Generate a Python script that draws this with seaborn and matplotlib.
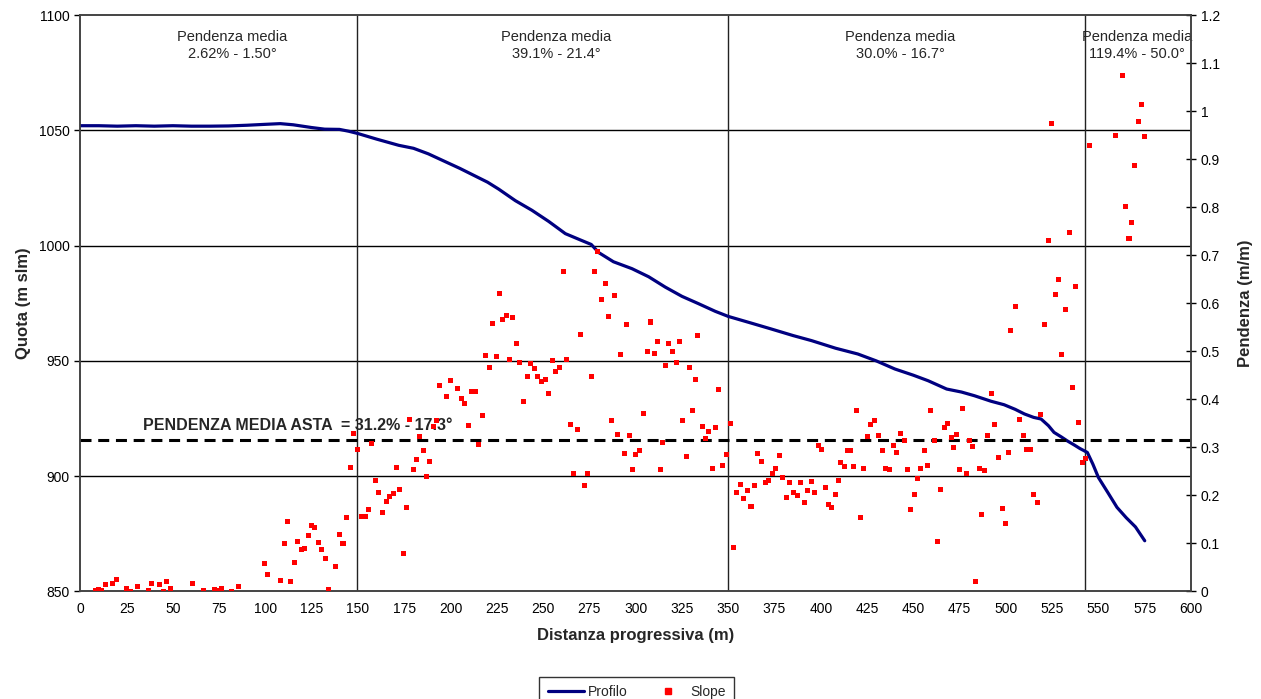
import matplotlib
matplotlib.use("Agg")
import matplotlib.pyplot as plt
from matplotlib.lines import Line2D
from matplotlib.ticker import FuncFormatter
import seaborn as sns
import pandas as pd

# -----------------------------------------------------------------------------
# DATI
# -----------------------------------------------------------------------------

# Profilo longitudinale (distanza progressiva, quota)
profilo_x = [0, 10, 20, 30, 40, 50, 60, 70, 80, 90, 100, 108, 115, 125, 132,
             140, 145, 150, 160, 172, 180, 188, 195, 205, 210, 220, 226, 235,
             244, 253, 262, 270, 276, 280, 288, 298, 307, 316, 325, 334, 343,
             350, 362, 373, 385, 395, 408, 420, 430, 440, 450, 458, 468, 476,
             483, 492, 499, 505, 510, 515, 519, 523, 526, 530, 533, 537, 540,
             544, 547, 550, 555, 560, 565, 570, 575]
profilo_z = [1052, 1052, 1051.8, 1052, 1051.8, 1052, 1051.8, 1051.8, 1051.9,
             1052.2, 1052.6, 1052.9, 1052.4, 1051.2, 1050.5, 1050.4, 1049.6,
             1048.6, 1046.2, 1043.5, 1042.2, 1039.8, 1037.2, 1033.5, 1031.5,
             1027.5, 1024.5, 1019.5, 1015.3, 1010.5, 1005.2, 1002.5, 1000.5,
             997, 993, 990, 986.5, 982, 978, 974.8, 971.5, 969.3, 966.5, 963.9,
             961, 958.8, 955.5, 953, 950, 946.5, 943.8, 941.4, 937.8, 936.5,
             934.9, 932.5, 931, 929, 927, 925.5, 924.8, 921.9, 919, 917, 915.4,
             913.5, 912, 910.3, 905.2, 899.4, 893, 886.5, 882, 878, 872]

# Pendenza locale (m/m)
slope_x = [8.1, 9.9, 11.7, 13.7, 17.3, 19.4, 25.2, 27.0, 31.0, 36.7, 38.6, 42.6,
           44.7, 46.5, 48.7, 60.5, 66.5, 72.4, 74.4, 76.3, 81.9, 85.3, 99.3,
           101.1, 108.3, 110.3, 111.9, 113.7, 115.5, 117.5, 119.3, 121.1, 123.0,
           124.7, 126.6, 128.4, 130.2, 132.2, 134.0, 138.0, 140.0, 141.9, 143.7,
           145.7, 147.6, 149.6, 151.8, 153.8, 155.6, 157.5, 159.5, 161.1, 163.2,
           165.2, 167.2, 169.2, 170.6, 172.4, 174.4, 176.2, 178.0, 179.8, 181.6,
           183.4, 185.3, 187.1, 188.8, 190.7, 192.5, 194.1, 197.7, 199.9, 203.7,
           205.8, 207.6, 209.6, 211.4, 213.4, 215.3, 217.3, 219.0, 221.0, 222.8,
           224.6, 226.4, 228.0, 230.0, 231.7, 233.5, 235.5, 237.3, 239.2, 241.4,
           243.4, 245.2, 247.2, 249.2, 251.1, 252.9, 254.9, 256.9, 258.9, 260.8,
           262.6, 264.6, 266.4, 268.4, 270.4, 272.2, 274.1, 275.9, 277.8, 279.6,
           281.6, 283.6, 285.5, 287.2, 288.8, 290.4, 292.0, 293.8, 295.2, 296.7,
           298.1, 299.9, 302.3, 304.0, 306.2, 308.0, 310.0, 311.6, 313.2, 314.5,
           316.3, 317.9, 319.9, 321.8, 323.6, 325.4, 327.2, 329.0, 330.8, 332.4,
           333.5, 335.9, 337.7, 339.5, 341.3, 343.2, 345.0, 347.0, 348.8, 351.0,
           352.7, 354.7, 356.5, 358.5, 360.5, 362.3, 364.2, 366.0, 367.8, 370.0,
           371.8, 373.8, 375.6, 377.5, 379.5, 381.3, 383.3, 385.3, 387.2, 389.2,
           391.0, 393.0, 395.0, 396.7, 398.7, 400.5, 402.3, 404.1, 405.9, 407.7,
           409.5, 410.9, 412.7, 414.2, 416.1, 417.8, 419.2, 421.3, 423.1, 425.3,
           427.1, 429.2, 431.2, 433.2, 435.2, 437.1, 439.1, 441.1, 443.1, 445.1,
           446.8, 448.6, 450.4, 452.1, 453.9, 455.8, 457.6, 459.2, 461.2, 462.8,
           464.8, 466.6, 468.6, 470.4, 471.8, 473.2, 474.9, 476.7, 478.5, 480.3,
           482.0, 483.8, 485.5, 486.9, 488.7, 490.3, 492.1, 493.9, 495.9, 497.9,
           499.8, 501.6, 502.6, 505.2, 507.4, 509.3, 511.3, 513.3, 515.1, 517.1,
           518.9, 520.7, 522.8, 524.8, 526.6, 528.6, 530.2, 532.2, 534.2, 535.8,
           537.8, 539.4, 541.3, 543.1, 545.1, 559.1, 562.9, 564.7, 566.5, 568.1,
           569.7, 571.5, 573.3, 574.9]
slope_y = [0.003, 0.005, 0.002, 0.015, 0.016, 0.024, 0.007, 0.001, 0.011, 0.002,
           0.016, 0.014, 0.000, 0.021, 0.007, 0.016, 0.002, 0.005, 0.002, 0.007,
           0.000, 0.010, 0.059, 0.036, 0.022, 0.100, 0.146, 0.021, 0.061, 0.105,
           0.088, 0.089, 0.116, 0.137, 0.134, 0.103, 0.087, 0.068, 0.005, 0.051,
           0.118, 0.100, 0.153, 0.259, 0.329, 0.296, 0.156, 0.157, 0.171, 0.308,
           0.231, 0.207, 0.164, 0.188, 0.197, 0.204, 0.258, 0.213, 0.080, 0.174,
           0.359, 0.253, 0.275, 0.323, 0.294, 0.240, 0.270, 0.344, 0.355, 0.428,
           0.405, 0.440, 0.422, 0.401, 0.391, 0.346, 0.416, 0.417, 0.306, 0.367,
           0.492, 0.466, 0.558, 0.489, 0.620, 0.567, 0.574, 0.483, 0.570, 0.517,
           0.476, 0.395, 0.447, 0.474, 0.465, 0.448, 0.437, 0.442, 0.413, 0.481,
           0.458, 0.466, 0.667, 0.482, 0.348, 0.246, 0.337, 0.536, 0.220, 0.246,
           0.447, 0.667, 0.708, 0.608, 0.641, 0.572, 0.356, 0.616, 0.327, 0.493,
           0.287, 0.555, 0.325, 0.254, 0.286, 0.293, 0.370, 0.500, 0.561, 0.496,
           0.521, 0.254, 0.311, 0.471, 0.517, 0.499, 0.476, 0.521, 0.356, 0.282,
           0.466, 0.377, 0.441, 0.533, 0.343, 0.319, 0.334, 0.256, 0.342, 0.421,
           0.263, 0.285, 0.349, 0.091, 0.207, 0.222, 0.194, 0.211, 0.176, 0.220,
           0.287, 0.270, 0.226, 0.231, 0.246, 0.256, 0.284, 0.238, 0.195, 0.227,
           0.207, 0.199, 0.226, 0.185, 0.210, 0.230, 0.206, 0.304, 0.296, 0.216,
           0.181, 0.174, 0.202, 0.231, 0.269, 0.261, 0.294, 0.293, 0.261, 0.377,
           0.153, 0.255, 0.323, 0.347, 0.355, 0.325, 0.293, 0.255, 0.254, 0.303,
           0.289, 0.329, 0.314, 0.254, 0.171, 0.201, 0.235, 0.257, 0.293, 0.263,
           0.377, 0.315, 0.105, 0.213, 0.342, 0.349, 0.320, 0.300, 0.327, 0.254,
           0.381, 0.246, 0.315, 0.302, 0.020, 0.255, 0.160, 0.251, 0.324, 0.412,
           0.347, 0.278, 0.173, 0.142, 0.290, 0.544, 0.594, 0.357, 0.324, 0.296,
           0.296, 0.201, 0.186, 0.368, 0.555, 0.730, 0.975, 0.618, 0.649, 0.494,
           0.588, 0.747, 0.425, 0.634, 0.352, 0.268, 0.277, 0.928, 0.950, 1.074,
           0.802, 0.734, 0.769, 0.887, 0.978, 1.014, 0.947]

# Tratti omogenei: limiti e pendenze medie
tratti_limiti = [149.5, 350, 543]
tratti_centro = [82, 257, 443, 571]
tratti_testo = ["2.62% - 1.50°", "39.1% - 21.4°", "30.0% - 16.7°", "119.4% - 50.0°"]

pendenza_media = 0.315
pendenza_media_testo = "PENDENZA MEDIA ASTA  = 31.2% - 17.3°"

# -----------------------------------------------------------------------------
# GRAFICO
# -----------------------------------------------------------------------------
sns.set_theme(style="white")
plt.rcParams["font.family"] = ["Liberation Sans", "DejaVu Sans"]

df_prof = pd.DataFrame({"x": profilo_x, "z": profilo_z})
df_slope = pd.DataFrame({"x": slope_x, "s": slope_y})

fig, ax = plt.subplots(figsize=(12.61, 6.99), dpi=100)
fig.subplots_adjust(left=0.0637, right=0.9445, bottom=0.1538, top=0.9785)
ax2 = ax.twinx()

# griglia e linee di separazione dei tratti
for q in [900, 950, 1000, 1050]:
    ax.axhline(q, color="black", linewidth=1, zorder=1)
for xv in tratti_limiti:
    ax.axvline(xv, color="#222222", linewidth=1, zorder=1)

# pendenza media asta (tratteggiata)
ax2.axhline(pendenza_media, color="black", linewidth=2.2, dashes=(3.6, 2.2), zorder=1)

sns.lineplot(data=df_prof, x="x", y="z", color="#000080", linewidth=2.3,
             ax=ax, zorder=3, legend=False)
sns.scatterplot(data=df_slope, x="x", y="s", color="#ff0000", marker="s", s=13,
                edgecolor="none", ax=ax2, zorder=4, legend=False)

ax.set_xlim(0, 600)
ax.set_ylim(850, 1100)
ax2.set_ylim(0, 1.2)
ax.set_xticks(range(0, 601, 25))
ax.set_yticks(range(850, 1101, 50))
ax2.set_yticks([i / 10 for i in range(13)])
ax2.yaxis.set_major_formatter(FuncFormatter(lambda v, p: f"{v:g}"))

ax.set_xlabel("Distanza progressiva (m)", fontsize=12, fontweight="bold", labelpad=9)
ax.set_ylabel("Quota (m slm)", fontsize=12, fontweight="bold", labelpad=6)
ax2.set_ylabel("Pendenza (m/m)", fontsize=12, fontweight="bold", labelpad=13)

for a in (ax, ax2):
    a.tick_params(axis="both", labelsize=10, length=4, width=1, colors="black",
                  direction="out")
    for sp in a.spines.values():
        sp.set_color("#444444")
        sp.set_linewidth(1.2)
ax2.tick_params(axis="y", direction="inout", length=7)

# etichette dei tratti
for xc, t in zip(tratti_centro, tratti_testo):
    ax.text(xc, 1093.5, "Pendenza media\n" + t, ha="center", va="top",
            fontsize=10.5, linespacing=1.25, zorder=2)

ax.text(33.8, 922, pendenza_media_testo, ha="left", va="center",
        fontsize=11.5, fontweight="bold", zorder=2)

# legenda
handles = [Line2D([], [], color="#000080", linewidth=2.3),
           Line2D([], [], color="#ff0000", marker="s", markersize=4, linestyle="none")]
leg = fig.legend(handles, ["Profilo", "Slope"], loc="upper center",
                 bbox_to_anchor=(0.505, 0.042), ncol=2, fontsize=10,
                 frameon=True, fancybox=False, edgecolor="black",
                 handlelength=2.6, handletextpad=0.3, columnspacing=1.6,
                 borderpad=0.6)
leg.get_frame().set_linewidth(1)

fig.savefig("out.png", dpi=100)
